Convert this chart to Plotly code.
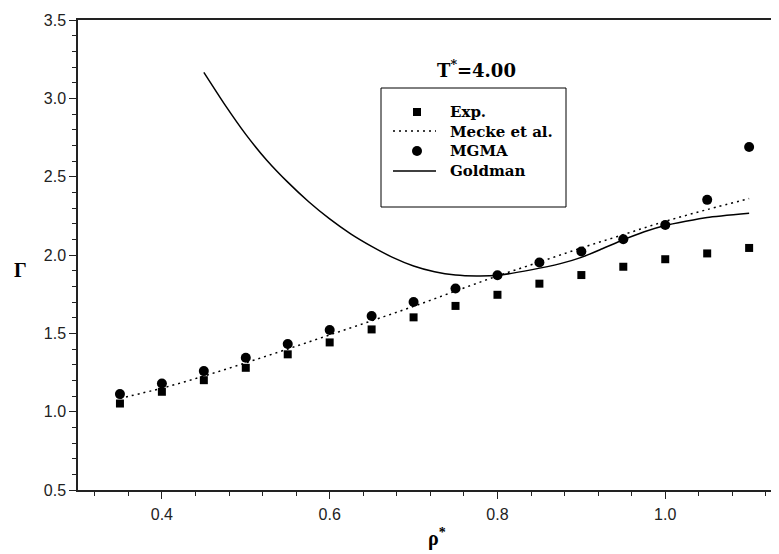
import plotly.graph_objects as go

# Experimental data (squares)
exp_x = [0.35, 0.40, 0.45, 0.50, 0.55, 0.60, 0.65, 0.70, 0.75, 0.80, 0.85, 0.90, 0.95, 1.00, 1.05, 1.10]
exp_y = [1.052, 1.127, 1.201, 1.280, 1.366, 1.442, 1.525, 1.602, 1.675, 1.746, 1.817, 1.872, 1.925, 1.973, 2.010, 2.045]

# MGMA (circles)
mgma_x = [0.35, 0.40, 0.45, 0.50, 0.55, 0.60, 0.65, 0.70, 0.75, 0.80, 0.85, 0.90, 0.95, 1.00, 1.05, 1.10]
mgma_y = [1.112, 1.180, 1.259, 1.344, 1.432, 1.521, 1.611, 1.700, 1.786, 1.871, 1.952, 2.022, 2.101, 2.192, 2.352, 2.689]

# Mecke et al. (dotted)
mecke_x = [0.35, 0.40, 0.45, 0.50, 0.55, 0.60, 0.65, 0.70, 0.75, 0.80, 0.85, 0.90, 0.95, 1.00, 1.05, 1.10]
mecke_y = [1.085, 1.150, 1.227, 1.312, 1.400, 1.490, 1.580, 1.672, 1.770, 1.866, 1.955, 2.045, 2.130, 2.215, 2.290, 2.360]

# Goldman (solid)
gold_x = [0.45, 0.475, 0.50, 0.525, 0.55, 0.575, 0.60, 0.625, 0.65, 0.675, 0.70, 0.725, 0.75, 0.775, 0.80,
          0.84, 0.875, 0.90, 0.925, 0.95, 0.975, 1.00, 1.05, 1.10]
gold_y = [3.166, 2.960, 2.770, 2.605, 2.465, 2.340, 2.230, 2.135, 2.055, 1.985, 1.930, 1.893, 1.872, 1.866, 1.870,
          1.905, 1.945, 1.985, 2.040, 2.097, 2.148, 2.188, 2.240, 2.267]

series_names = ["Exp.", "Mecke et al.", "MGMA", "Goldman"]
x_ticks = [0.4, 0.6, 0.8, 1.0]
y_ticks = [0.5, 1.0, 1.5, 2.0, 2.5, 3.0, 3.5]

serif = "Liberation Serif, Times New Roman, serif"
wide_serif = "DejaVu Serif, serif"
sans = "Liberation Sans, Arial, sans-serif"

fig = go.Figure()
fig.add_trace(go.Scatter(x=exp_x, y=exp_y, mode="markers", name=series_names[0], showlegend=False,
                         marker=dict(symbol="square", size=8, color="black")))
fig.add_trace(go.Scatter(x=mecke_x, y=mecke_y, mode="lines", name=series_names[1], showlegend=False,
                         line=dict(color="black", width=1.5, dash="2px,4px", shape="spline")))
fig.add_trace(go.Scatter(x=mgma_x, y=mgma_y, mode="markers", name=series_names[2], showlegend=False,
                         marker=dict(symbol="circle", size=10, color="black")))
fig.add_trace(go.Scatter(x=gold_x, y=gold_y, mode="lines", name=series_names[3], showlegend=False,
                         line=dict(color="black", width=1.5, shape="spline", smoothing=0.5)))

axis_font = dict(family=sans, size=16, color="#222")

# page has an 8px body margin; compensate
OFF = 8
W, H = 771, 546
l, r, t, b = 70, 0, 12, 64
pw, ph = W - l - r, H - t - b

def pxx(px):
    return (px - OFF - l) / pw

def pxy(py):
    return 1 - (py - OFF - t) / ph

# ---- legend box (drawn as layout decoration) ----
box = dict(x0=381, x1=566, y0=88, y1=207)
row_y = [112, 131, 151, 171]
sample_x0, sample_x1, sym_x, text_x = 393, 436, 417, 448

shapes = [
    dict(type="rect", xref="paper", yref="paper", x0=pxx(box["x0"]), x1=pxx(box["x1"]),
         y0=pxy(box["y0"]), y1=pxy(box["y1"]), line=dict(color="black", width=1), fillcolor="white", layer="above"),
    dict(type="rect", xref="paper", yref="paper", x0=pxx(sym_x - 4), x1=pxx(sym_x + 4),
         y0=pxy(row_y[0] - 4), y1=pxy(row_y[0] + 4), line=dict(width=0), fillcolor="black", layer="above"),
    dict(type="line", xref="paper", yref="paper", x0=pxx(sample_x0), x1=pxx(sample_x1),
         y0=pxy(row_y[1]), y1=pxy(row_y[1]), line=dict(color="black", width=1.5, dash="2px,4px"), layer="above"),
    dict(type="circle", xref="paper", yref="paper", x0=pxx(sym_x - 5), x1=pxx(sym_x + 5),
         y0=pxy(row_y[2] - 5), y1=pxy(row_y[2] + 5), line=dict(width=0), fillcolor="black", layer="above"),
    dict(type="line", xref="paper", yref="paper", x0=pxx(sample_x0), x1=pxx(sample_x1),
         y0=pxy(row_y[3]), y1=pxy(row_y[3]), line=dict(color="black", width=1.5), layer="above"),
]

legend_text = "<br>".join(f"<b>{n}</b>" for n in series_names)
annotations = [
    dict(text=legend_text, x=pxx(text_x), y=pxy(141.5), xref="paper", yref="paper",
         xanchor="left", yanchor="middle", align="left", showarrow=False,
         font=dict(family=wide_serif, size=15, color="black")),
    dict(text="<b>T<sup>*</sup>=4.00</b>", x=pxx(476), y=pxy(69), xref="paper", yref="paper",
         xanchor="center", yanchor="middle", showarrow=False,
         font=dict(family=wide_serif, size=18, color="black")),
    dict(text="<b>Γ</b>", x=pxx(20), y=pxy(270), xref="paper", yref="paper",
         xanchor="center", yanchor="middle", showarrow=False,
         font=dict(family=serif, size=20, color="black")),
    dict(text="<b>ρ<sup>*</sup></b>", x=pxx(437), y=pxy(537), xref="paper", yref="paper",
         xanchor="center", yanchor="middle", showarrow=False,
         font=dict(family=serif, size=20, color="black")),
]

fig.update_layout(
    width=W, height=H,
    margin=dict(l=l, r=r, t=t, b=b),
    paper_bgcolor="white", plot_bgcolor="white",
    showlegend=False,
    shapes=shapes,
    annotations=annotations,
    xaxis=dict(range=[0.3, 1.1356], tickvals=x_ticks, ticktext=[f"{v:.1f}" for v in x_ticks],
               showline=True, linecolor="#222", linewidth=1.5, mirror=True,
               ticks="outside", ticklen=7, tickwidth=1, tickcolor="#222", ticklabelstandoff=2,
               tickfont=axis_font, showgrid=False, zeroline=False,
               minor=dict(dtick=0.04, tick0=0.0, ticks="outside", ticklen=4, tickwidth=1, tickcolor="#222", showgrid=False)),
    yaxis=dict(range=[0.5, 3.5], tickvals=y_ticks, ticktext=[f"{v:.1f}" for v in y_ticks],
               showline=True, linecolor="#222", linewidth=1.5, mirror=False,
               ticks="outside", ticklen=7, tickwidth=1, tickcolor="#222",
               tickfont=axis_font, showgrid=False, zeroline=False,
               minor=dict(dtick=0.1, ticks="outside", ticklen=4, tickwidth=1, tickcolor="#222", showgrid=False)),
)

fig.write_html("out.html")
